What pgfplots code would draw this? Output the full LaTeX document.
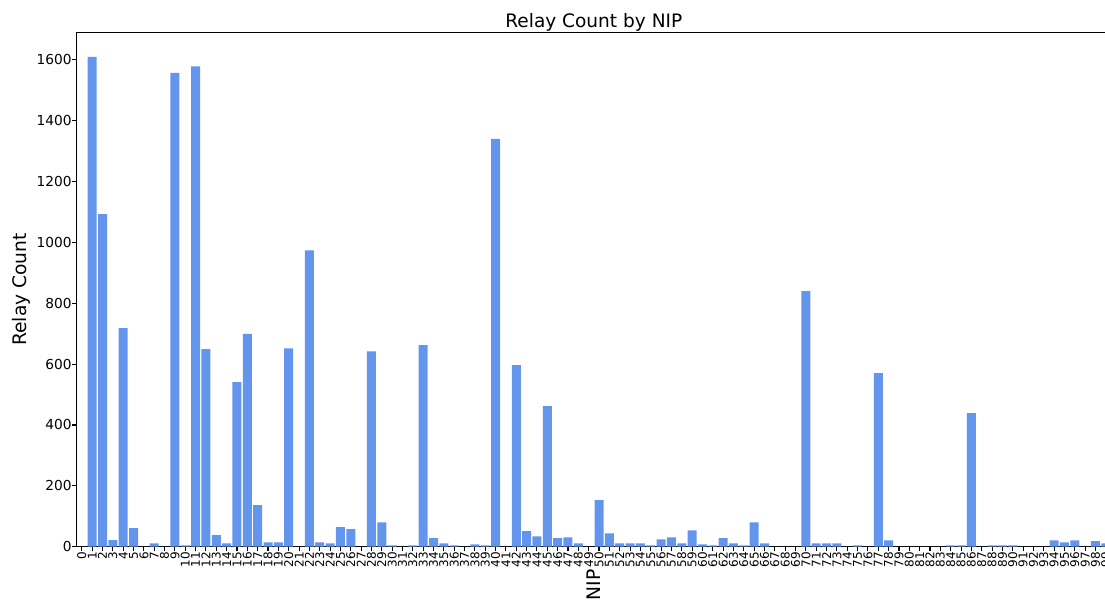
\documentclass[border=0pt]{standalone}
\usepackage{fontspec}
\setmainfont{DejaVu Sans}
\usepackage{pgfplots}
\usepackage{pgfplotstable}
\pgfplotsset{compat=1.18}

\definecolor{barblue}{HTML}{6495ED}

% relay count per NIP
\pgfplotstableread{
nip count
0 0
1 1610
2 1093
3 22
4 718
5 61
6 0
7 11
8 0
9 1557
10 4
11 1578
12 649
13 38
14 11
15 541
16 699
17 137
18 14
19 14
20 652
21 0
22 974
23 14
24 11
25 64
26 58
27 0
28 642
29 80
30 4
31 0
32 4
33 662
34 28
35 11
36 4
37 0
38 8
39 4
40 1340
41 0
42 597
43 51
44 34
45 462
46 28
47 31
48 11
49 0
50 153
51 44
52 11
53 11
54 11
55 4
56 24
57 31
58 11
59 54
60 8
61 4
62 28
63 11
64 4
65 80
66 11
67 0
68 0
69 0
70 840
71 11
72 11
73 11
74 0
75 4
76 0
77 570
78 21
79 0
80 0
81 0
82 0
83 0
84 4
85 4
86 439
87 0
88 4
89 4
90 4
91 0
92 0
93 0
94 21
95 14
96 21
97 0
98 18
99 11
}\relaycounts

\begin{document}
\begin{tikzpicture}
\begin{axis}[
  scale only axis,
  width=775.7pt, height=385.8pt,
  xmin=-0.5, xmax=99.5,
  ymin=0, ymax=1690.5,
  ybar, bar width=0.87, bar shift=0pt,
  xtick={0,...,99},
  ytick={0,200,...,1600},
  tick align=outside,
  xtick pos=left, ytick pos=left,
  major tick length=3.6pt,
  every tick/.style={black, line width=0.8pt},
  axis line style={black, line width=0.8pt},
  /pgf/number format/assume math mode=true,
  /pgf/number format/1000 sep={},
  yticklabel style={anchor=east, inner sep=0pt,
    font=\fontsize{10.3}{12}\selectfont},
  xticklabel style={rotate=90, anchor=east, inner sep=0pt,
    font=\fontsize{9}{11}\selectfont},
  every axis title shift=0pt,
  title={Relay Count by NIP},
  title style={at={(rel axis cs:0.5,1)}, anchor=base, yshift=3.5pt,
    inner sep=0pt, font=\fontsize{13.9}{16}\selectfont},
  ylabel={Relay Count},
  ylabel style={at={(rel axis cs:-0.05389,0.5)}, anchor=center,
    font=\fontsize{14}{16}\selectfont},
  xlabel={NIP},
  xlabel style={at={(rel axis cs:0.5,-0.0744)}, anchor=center, rotate=90,
    font=\fontsize{14}{16}\selectfont},
]
\addplot[fill=barblue, draw=none] table[x=nip, y=count] {\relaycounts};
\end{axis}
\pgfresetboundingbox
\path[use as bounding box]
  ([xshift=-57.5pt, yshift=-41.5pt]current axis.south west)
  rectangle ([xshift=771.2pt, yshift=24.2pt]current axis.north west);
\end{tikzpicture}
\end{document}
